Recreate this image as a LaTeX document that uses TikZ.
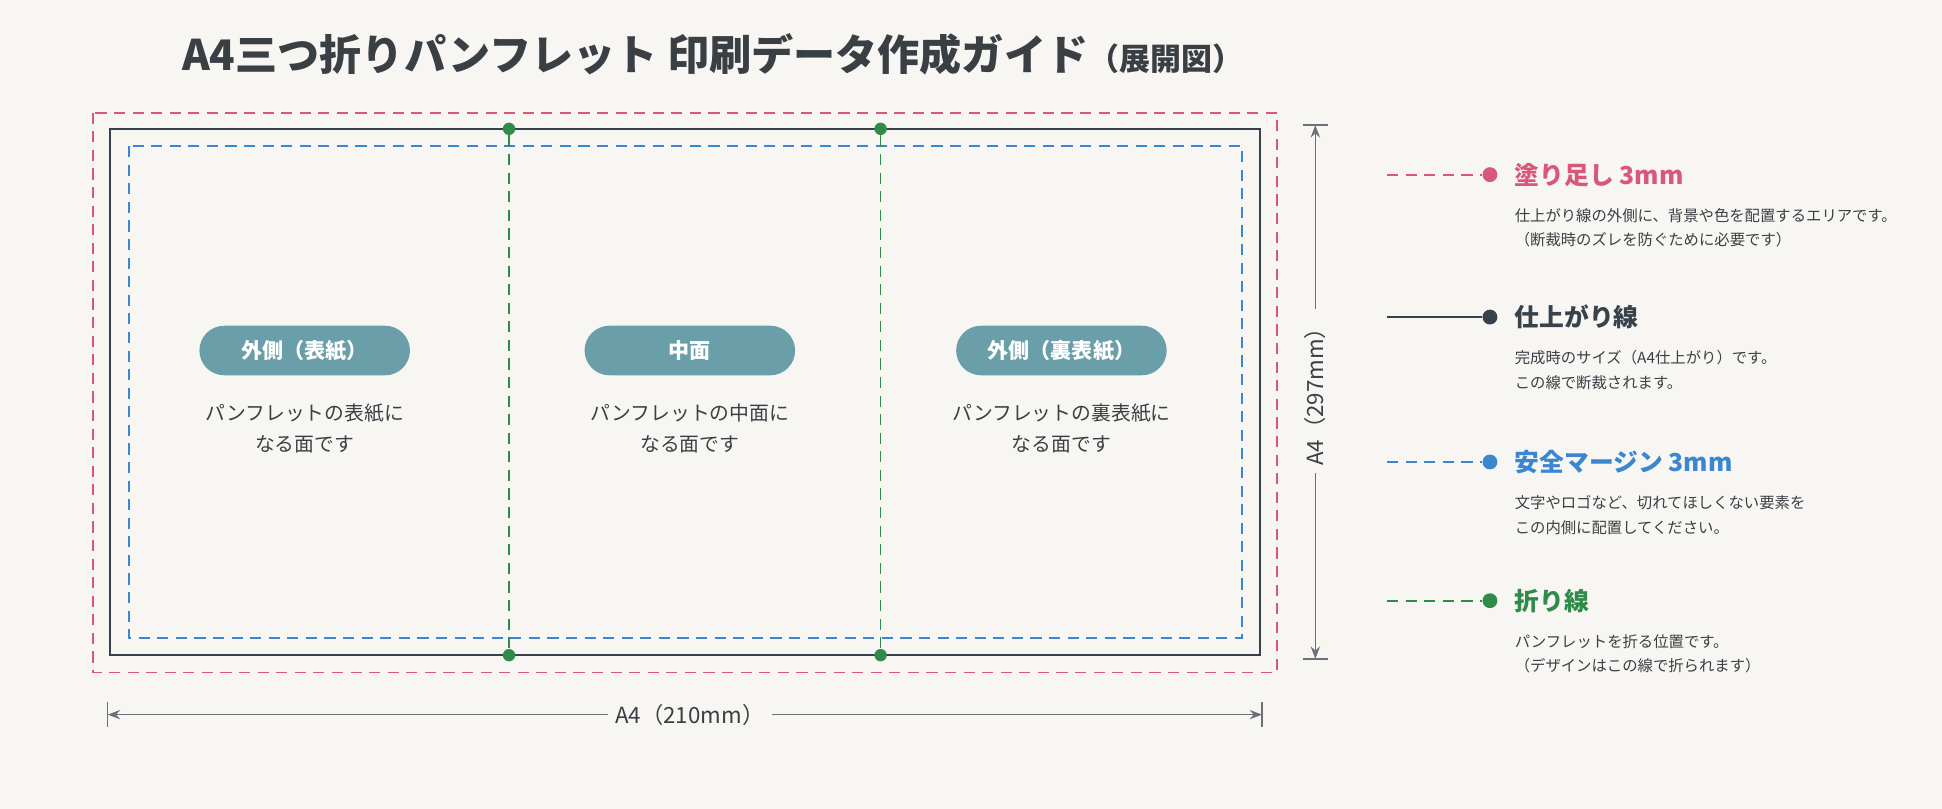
\documentclass[tikz,border=0pt]{standalone}
\usepackage{fontspec}
\setmainfont{Noto Sans CJK JP}
\usetikzlibrary{arrows.meta}
\definecolor{bg}{HTML}{F7F6F3}
\definecolor{bleed}{HTML}{D9577A}
\definecolor{safe}{HTML}{3A87D0}
\definecolor{fold}{HTML}{2E8B4A}
\definecolor{trim}{HTML}{37424A}
\definecolor{pill}{HTML}{6A9FAA}
\definecolor{txt}{HTML}{3A3F44}
\definecolor{dim}{HTML}{6B7178}
\tikzset{
 dsh/.style={line width=0.7pt,dash pattern=on 4.5pt off 3pt},
 pillbox/.style={fill=pill,rounded corners=10pt,minimum width=85pt,minimum height=20pt,text=white,font=\fontsize{8.5}{10}\selectfont\bfseries},
 paneltxt/.style={align=center,text=txt,font=\fontsize{8}{12.5}\selectfont},
 lghead/.style={anchor=west,font=\fontsize{10}{12}\selectfont\bfseries},
 lgdesc/.style={anchor=north west,align=left,text=txt,font=\fontsize{6.2}{10}\selectfont},
 dot/.style={circle,inner sep=0,minimum size=5pt},
}
\begin{document}
\begin{tikzpicture}[x=0.5pt,y=-0.5pt]
\fill[bg] (0,0) rectangle (1568,653);
\useasboundingbox (0,0) rectangle (1568,653);
\node[anchor=west,text=txt,font=\fontsize{17}{19}\selectfont\bfseries] (title) at (140,44) {A4三つ折りパンフレット 印刷データ作成ガイド\fontsize{12.5}{14}\selectfont（展開図）};
% rectangles
\draw[bleed,dsh] (75,91) rectangle (1031,543);
\draw[trim,line width=0.8pt] (89,104) rectangle (1017,529);
\draw[safe,dsh] (104,118) rectangle (1003,515);
% fold lines
\foreach \x/\n in {411/a,711/b}{
 \node[dot,fill=fold] (ft\n) at (\x,104) {};
 \node[dot,fill=fold] (fb\n) at (\x,529) {};
 \draw[fold,dsh] (ft\n) -- (fb\n);
}
% panels
\node[pillbox] (p1) at (246,283) {外側（表紙）};
\node[pillbox] (p2) at (557,283) {中面};
\node[pillbox] (p3) at (857,283) {外側（裏表紙）};
\node[paneltxt] (t1) at (246,346) {パンフレットの表紙に\\なる面です};
\node[paneltxt] (t2) at (557,346) {パンフレットの中面に\\なる面です};
\node[paneltxt] (t3) at (857,346) {パンフレットの裏表紙に\\なる面です};
% vertical dimension
\coordinate (vt) at (1062,101); \coordinate (vb) at (1062,532);
\draw[dim,line width=0.6pt] (1052,101) -- (1072,101) (1052,532) -- (1072,532);
\draw[dim,line width=0.6pt,{Stealth[length=5pt]}-{Stealth[length=5pt]}] (vt) -- (vb);
\node[fill=bg,rotate=90,text=txt,font=\fontsize{9}{10}\selectfont,inner sep=3pt] (vl) at (1062,316) {A4（297mm）};
% horizontal dimension
\coordinate (hl) at (87,577); \coordinate (hr) at (1019,577);
\draw[dim,line width=0.6pt] (87,567) -- (87,587) (1019,567) -- (1019,587);
\draw[dim,line width=0.6pt,{Stealth[length=5pt]}-{Stealth[length=5pt]}] (hl) -- (hr);
\node[fill=bg,text=txt,font=\fontsize{9}{10}\selectfont,inner sep=3pt] (hlab) at (557,577) {A4（210mm）};
% legend
\foreach \y/\c/\s/\n in {141/bleed/dsh/l1,256/trim/solid/l2,373/safe/dsh/l3,485/fold/dsh/l4}{
 \coordinate (s\n) at (1120,\y);
 \node[dot,fill=\c,minimum size=6pt] (d\n) at (1203,\y) {};
 \draw[\c,line width=0.8pt,\s] (s\n) -- (d\n);
}
\node[lghead,text=bleed] (h1) at (1216,141) {塗り足し 3mm};
\node[lgdesc] (e1) at (1216,161) {仕上がり線の外側に、背景や色を配置するエリアです。\\（断裁時のズレを防ぐために必要です）};
\node[lghead,text=trim] (h2) at (1216,256) {仕上がり線};
\node[lgdesc] (e2) at (1216,276) {完成時のサイズ（A4仕上がり）です。\\この線で断裁されます。};
\node[lghead,text=safe] (h3) at (1216,373) {安全マージン 3mm};
\node[lgdesc] (e3) at (1216,393) {文字やロゴなど、切れてほしくない要素を\\この内側に配置してください。};
\node[lghead,text=fold] (h4) at (1216,485) {折り線};
\node[lgdesc] (e4) at (1216,505) {パンフレットを折る位置です。\\（デザインはこの線で折られます）};
\end{tikzpicture}
\end{document}
